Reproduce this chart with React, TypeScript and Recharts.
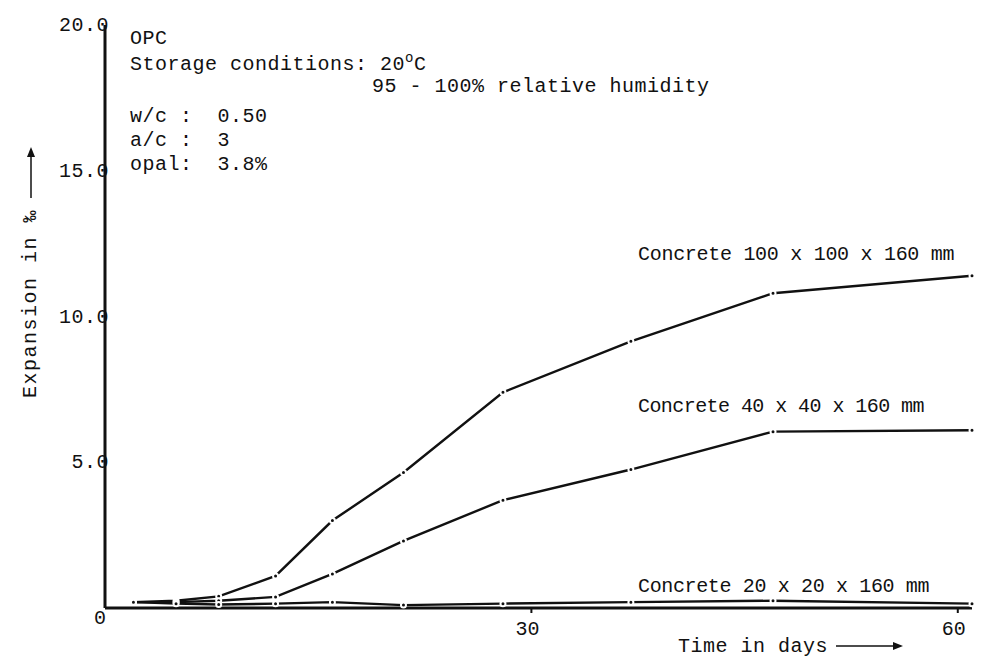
import React from 'react';
import { LineChart, Line, XAxis, YAxis } from 'recharts';

// days of measurement
const days = [2, 5, 8, 12, 16, 21, 28, 37, 47, 61];
// expansion in per mille, per specimen size
const concrete100 = [0.2, 0.25, 0.4, 1.1, 3.0, 4.65, 7.4, 9.15, 10.8, 11.4];
const concrete40 = [0.2, 0.2, 0.25, 0.38, 1.17, 2.3, 3.7, 4.75, 6.05, 6.1];
const concrete20 = [0.2, 0.15, 0.12, 0.15, 0.2, 0.1, 0.15, 0.2, 0.25, 0.15];

const yTicks = [0, 5, 10, 15, 20];
const xTicks = [30, 60];

const seriesLabels = [
  'Concrete 100 x 100 x 160 mm',
  'Concrete 40 x 40 x 160 mm',
  'Concrete 20 x 20 x 160 mm',
];

const infoLines = ['w/c :  0.50', 'a/c :  3', 'opal:  3.8%'];

const FONT = '"Liberation Mono", "Courier New", monospace';
const INK = '#111';

const data = days.map((d, i) => ({
  day: d,
  c100: concrete100[i],
  c40: concrete40[i],
  c20: concrete20[i],
}));

const YTick = ({ x, y, payload }: any) => {
  if (payload.value === 0) {
    return (
      <text x={100} y={y + 16} textAnchor="middle" fontFamily={FONT} fontSize={20} fill={INK}>
        0
      </text>
    );
  }
  return (
    <text x={x + 6} y={y + 6} textAnchor="end" fontFamily={FONT} fontSize={20} fill={INK} letterSpacing={0.5}>
      {payload.value.toFixed(1)}
    </text>
  );
};

const XTick = ({ x, y, payload }: any) => (
  <text x={x - 4} y={y + 20} textAnchor="middle" fontFamily={FONT} fontSize={20} fill={INK}>
    {payload.value}
  </text>
);

const dotStyle = { r: 2.5, fill: INK, stroke: '#fff', strokeWidth: 2 };

const App: React.FC = () => {
  return (
    <div style={{ position: 'absolute', left: 0, top: 0, width: 1006, height: 660, background: '#fff' }}>
      <LineChart
        width={1006}
        height={660}
        data={data}
        margin={{ top: 25, right: 34, bottom: 22, left: 45 }}
      >
        <XAxis
          dataKey="day"
          type="number"
          domain={[0, 61]}
          ticks={xTicks}
          height={30}
          axisLine={{ stroke: INK, strokeWidth: 3 }}
          tickLine={{ stroke: INK, strokeWidth: 2 }}
          tickSize={5}
          tick={<XTick />}
        />
        <YAxis
          type="number"
          domain={[0, 20]}
          ticks={yTicks}
          width={60}
          axisLine={{ stroke: INK, strokeWidth: 3 }}
          tickLine={false}
          tickSize={0}
          tick={<YTick />}
        />
        <Line dataKey="c100" stroke={INK} strokeWidth={2.4} dot={dotStyle} isAnimationActive={false} />
        <Line dataKey="c40" stroke={INK} strokeWidth={2.4} dot={dotStyle} isAnimationActive={false} />
        <Line dataKey="c20" stroke={INK} strokeWidth={2.4} dot={dotStyle} isAnimationActive={false} />
      </LineChart>

      <svg
        width={1006}
        height={660}
        style={{ position: 'absolute', left: 0, top: 0, pointerEvents: 'none' }}
        fontFamily={FONT}
        fontSize={20}
        fill={INK}
        letterSpacing={0.5}
      >
        {/* info block */}
        <text x={130} y={44}>OPC</text>
        <text x={130} y={70}>
          Storage conditions: 20
          <tspan fontSize={14} dy={-8}>o</tspan>
          <tspan dy={8}>C</tspan>
        </text>
        <text x={372} y={92}>95 - 100% relative humidity</text>
        {infoLines.map((t, i) => (
          <text key={t} x={130} y={122 + i * 24} style={{ whiteSpace: 'pre' }}>
            {t}
          </text>
        ))}

        {/* series labels */}
        <text x={638} y={260} textLength={317} lengthAdjust="spacing">{seriesLabels[0]}</text>
        <text x={638} y={412} textLength={287} lengthAdjust="spacing">{seriesLabels[1]}</text>
        <text x={638} y={592} textLength={292} lengthAdjust="spacing">{seriesLabels[2]}</text>

        {/* x axis title */}
        <text x={678} y={652}>Time in days</text>
        <line x1={836} y1={646} x2={896} y2={646} stroke={INK} strokeWidth={1.5} />
        <polygon points="903,646 893,642 893,650" fill={INK} />

        {/* y axis title */}
        <text x={36} y={398} transform="rotate(-90 36 398)" letterSpacing={1.5}>Expansion in ‰</text>
        <line x1={31} y1={198} x2={31} y2={154} stroke={INK} strokeWidth={1.5} />
        <polygon points="31,147 27,157 35,157" fill={INK} />
      </svg>
    </div>
  );
};

export default App;
